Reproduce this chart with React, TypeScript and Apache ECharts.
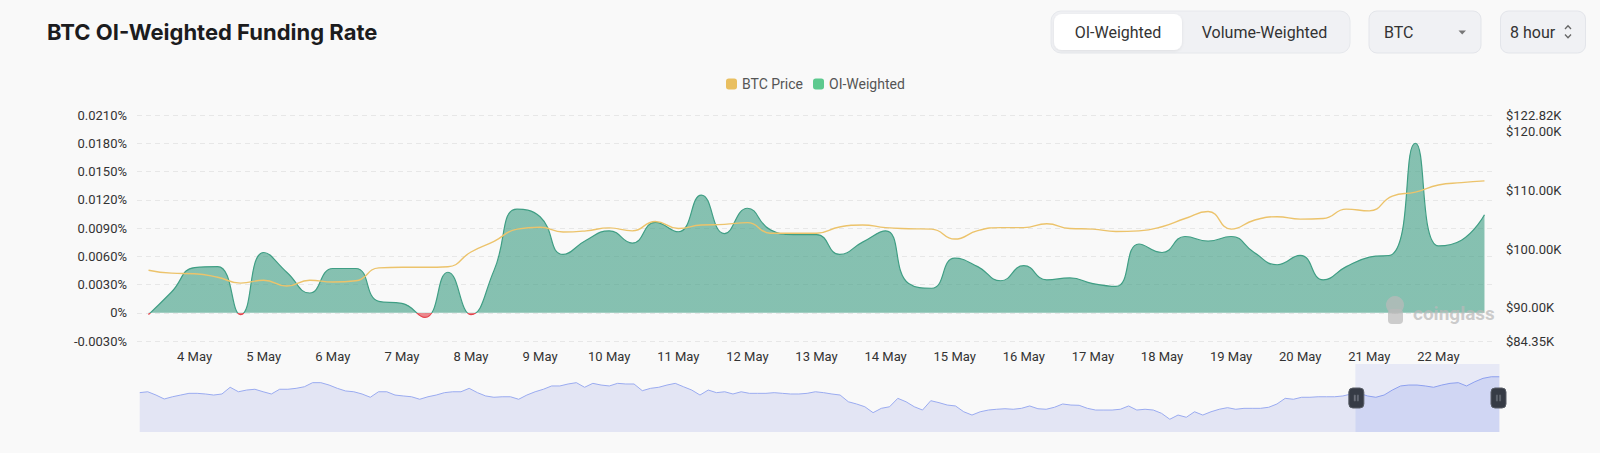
import React, { useEffect, useRef } from "react";
import * as echarts from "echarts";

// 8-hour funding intervals, 3 May 08:00 to 22 May 16:00 (2025)
const categories = [
  "05-03 08:00", "05-03 16:00",
  "05-04 00:00", "05-04 08:00", "05-04 16:00",
  "05-05 00:00", "05-05 08:00", "05-05 16:00",
  "05-06 00:00", "05-06 08:00", "05-06 16:00",
  "05-07 00:00", "05-07 08:00", "05-07 16:00",
  "05-08 00:00", "05-08 08:00", "05-08 16:00",
  "05-09 00:00", "05-09 08:00", "05-09 16:00",
  "05-10 00:00", "05-10 08:00", "05-10 16:00",
  "05-11 00:00", "05-11 08:00", "05-11 16:00",
  "05-12 00:00", "05-12 08:00", "05-12 16:00",
  "05-13 00:00", "05-13 08:00", "05-13 16:00",
  "05-14 00:00", "05-14 08:00", "05-14 16:00",
  "05-15 00:00", "05-15 08:00", "05-15 16:00",
  "05-16 00:00", "05-16 08:00", "05-16 16:00",
  "05-17 00:00", "05-17 08:00", "05-17 16:00",
  "05-18 00:00", "05-18 08:00", "05-18 16:00",
  "05-19 00:00", "05-19 08:00", "05-19 16:00",
  "05-20 00:00", "05-20 08:00", "05-20 16:00",
  "05-21 00:00", "05-21 08:00", "05-21 16:00",
  "05-22 00:00", "05-22 08:00", "05-22 16:00",
];

// OI-weighted funding rate, in percent
const oiWeightedRate = [
  -0.0002, 0.0022, 0.0048, 0.0049, -0.0002, 0.0064, 0.0043, 0.0021, 0.0047, 0.0047,
  0.0012, 0.001, -0.0005, 0.0043, -0.0002, 0.0045, 0.011, 0.0102, 0.0062, 0.0077,
  0.0087, 0.0074, 0.0096, 0.0086, 0.0125, 0.0084, 0.0111, 0.0088, 0.0083, 0.0083,
  0.0062, 0.0075, 0.0087, 0.0031, 0.0026, 0.0058, 0.0049, 0.0034, 0.005, 0.0035,
  0.0037, 0.0031, 0.0028, 0.0073, 0.0064, 0.0081, 0.0076, 0.0081, 0.0064, 0.0051,
  0.0061, 0.0035, 0.0049, 0.0059, 0.0062, 0.018, 0.0071, 0.0077, 0.0104,
];

// BTC price, USD
const btcPrice = [
  96400, 95900, 95800, 95200, 94200, 94700, 93700, 94700, 94400, 94600,
  96800, 96900, 96900, 97000, 99500, 101300, 103400, 103700, 102900, 103100,
  103600, 103100, 104700, 103500, 104100, 104200, 104500, 102700, 102700, 102700,
  103750, 104100, 103650, 103470, 103400, 101700, 103150, 103650, 103650, 104300,
  103500, 103400, 103000, 103100, 103800, 105200, 106400, 103400, 104900, 105500,
  105100, 105200, 106800, 106500, 109000, 109700, 110900, 111300, 111600,
];

// Longer BTC price history shown in the zoom slider preview
const historyPrice = [
  99500, 100200, 97700, 94700, 96400, 97700, 99000, 99000, 98500, 97700,
  98500, 103600, 100200, 101500, 102100, 100200, 98500, 102100, 102100, 102800,
  104000, 107100, 107100, 105300, 102800, 100800, 100200, 98500, 96000, 100200,
  100200, 97700, 97000, 96400, 94500, 96400, 97700, 99500, 100200, 100200,
  102800, 99500, 97000, 96000, 96400, 96400, 94500, 97700, 100200, 102100,
  104600, 104600, 106100, 107100, 103600, 106600, 105300, 104600, 106600, 106100,
  106100, 101000, 102800, 103600, 105300, 106600, 104000, 101500, 97700, 101500,
  99500, 100200, 98500, 100200, 99000, 99000, 99000, 99500, 99000, 98500,
  98500, 99000, 100200, 99500,
  98500, 97700, 92600, 90900, 88800, 84300, 87600, 88800, 95200, 92600,
  88800, 86300, 93400, 91900, 90100, 89400, 85000, 82500, 85000, 86300,
  86900, 87300, 86900, 87600, 89400, 87300, 86900, 88400, 90900, 90100,
  89900, 87600, 86300, 86300, 86300, 86900, 89400, 86300, 86900, 86300,
  83800, 79300, 82500, 80800, 85000, 82500, 85000, 86900, 88100, 86900,
  87600, 87600, 87600, 88400, 90900, 95200, 94500, 96000, 96000, 96400,
  96400, 96400, 97000, 98500, 99000, 97000,
  96000, 97700, 101500, 104600, 105300, 105300, 104600, 103600, 105300, 106600,
  107100, 104600, 107800, 110400, 111600, 111600,
];

const rateAxis = { min: -0.003, max: 0.021, interval: 0.003 };
const priceAxis = { min: 84350, max: 122820 };
const zoomWindow = { start: 89.4, end: 100 };

const FONT = "Roboto, 'Noto Sans', sans-serif";
const TITLE_FONT = "Inter, Roboto, sans-serif";
const BG = "#f9f9f9";

export default function App() {
  const ref = useRef<HTMLDivElement>(null);

  useEffect(() => {
    document.body.style.margin = "0";
    document.body.style.background = BG;
    const chart = echarts.init(ref.current as HTMLDivElement, null, { renderer: "svg" });

    const wm = "rgba(186,186,186,0.72)";
    const option: any = {
      animation: false,
      backgroundColor: BG,
      textStyle: { fontFamily: FONT },
      graphic: [
        {
          type: "text", x: 47, y: 32,
          style: { text: "BTC OI-Weighted Funding Rate", fontSize: 22, fontWeight: "bold", fill: "#1c1c1e", fontFamily: TITLE_FONT, verticalAlign: "middle" },
        },
        { type: "rect", shape: { x: 1051, y: 11, width: 299, height: 42, r: 10 }, style: { fill: "#f0f1f4", stroke: "#e6e8ec", lineWidth: 1 } },
        { type: "rect", shape: { x: 1054, y: 14, width: 128, height: 36, r: 8 }, style: { fill: "#ffffff", shadowBlur: 3, shadowColor: "rgba(0,0,0,0.08)", shadowOffsetY: 1 } },
        { type: "text", x: 1118, y: 32, style: { text: "OI-Weighted", fontSize: 16, fill: "#333", fontFamily: FONT, align: "center", verticalAlign: "middle" } },
        { type: "text", x: 1264.5, y: 32, style: { text: "Volume-Weighted", fontSize: 16, fill: "#333", fontFamily: FONT, align: "center", verticalAlign: "middle" } },
        { type: "rect", shape: { x: 1369, y: 11, width: 112, height: 42, r: 8 }, style: { fill: "#f0f1f4", stroke: "#e3e5ea", lineWidth: 1 } },
        { type: "text", x: 1384, y: 32, style: { text: "BTC", fontSize: 16, fill: "#333", fontFamily: FONT, align: "left", verticalAlign: "middle" } },
        { type: "polygon", shape: { points: [[1458.5, 30.5], [1466, 30.5], [1462.2, 34.5]] }, style: { fill: "#777" } },
        { type: "rect", shape: { x: 1500.5, y: 11, width: 85, height: 42, r: 8 }, style: { fill: "#f0f1f4", stroke: "#e3e5ea", lineWidth: 1 } },
        { type: "text", x: 1510, y: 32, style: { text: "8 hour", fontSize: 16, fill: "#333", fontFamily: FONT, align: "left", verticalAlign: "middle" } },
        { type: "polyline", shape: { points: [[1565, 29], [1568, 25.8], [1571, 29]] }, style: { stroke: "#666", lineWidth: 1.3, fill: "none" } },
        { type: "polyline", shape: { points: [[1565, 34.5], [1568, 37.7], [1571, 34.5]] }, style: { stroke: "#666", lineWidth: 1.3, fill: "none" } },
        // watermark
        { type: "circle", z: 100, shape: { cx: 1395, cy: 305, r: 9 }, style: { fill: wm } },
        { type: "rect", z: 100, shape: { x: 1388, y: 309, width: 15, height: 15, r: 4 }, style: { fill: wm } },
        {
          type: "text", z: 100, x: 1413, y: 313,
          style: { text: "coinglass", fontSize: 19, fontWeight: "bold", fill: wm, fontFamily: FONT, verticalAlign: "middle" },
        },
      ],
      legend: {
        left: 721, top: 72, itemWidth: 11, itemHeight: 11, itemGap: 10, icon: "roundRect",
        textStyle: { color: "#555", fontSize: 14, fontFamily: FONT },
        itemStyle: { borderWidth: 0 },
        data: [
          { name: "BTC Price", itemStyle: { color: "#e9bf60" } },
          { name: "OI-Weighted", itemStyle: { color: "#5cc98e" } },
        ],
      },
      grid: [
        { left: 137, right: 104, top: 115, bottom: 112 },
        { left: 137, right: 103, top: 364, height: 68, show: false },
      ],
      xAxis: [
        {
          type: "category", gridIndex: 0, data: categories, boundaryGap: true,
          axisLine: { show: false }, axisTick: { show: false },
          axisLabel: {
            interval: (i: number) => i % 3 === 2,
            formatter: (v: string) => parseInt(v.slice(3, 5), 10) + " May",
            color: "#333", fontSize: 13, margin: 9, fontFamily: FONT,
          },
        },
        { type: "category", gridIndex: 1, data: historyPrice.map((_, i) => i), show: false },
      ],
      yAxis: [
        {
          type: "value", gridIndex: 0, min: rateAxis.min, max: rateAxis.max, interval: rateAxis.interval,
          axisLine: { show: false }, axisTick: { show: false },
          splitLine: { lineStyle: { color: "#e7e7e7", type: [5, 4] } },
          axisLabel: {
            color: "#333", fontSize: 13, margin: 10, fontFamily: FONT,
            formatter: (v: number) => (Math.abs(v) < 1e-12 ? "0%" : v.toFixed(4) + "%"),
          },
        },
        {
          type: "value", gridIndex: 0, position: "right", min: priceAxis.min, max: priceAxis.max,
          axisLine: { show: false }, axisTick: { show: false }, splitLine: { show: false },
          axisLabel: {
            color: "#333", fontSize: 13, margin: 10, fontFamily: FONT,
            formatter: (v: number) => "$" + (v / 1000).toFixed(2) + "K",
          },
        },
        { type: "value", gridIndex: 1, show: false, scale: true },
      ],
      visualMap: {
        show: false, type: "piecewise", seriesIndex: 0, dimension: 1,
        pieces: [
          { gte: -1, lt: 0, color: "#e4434c" },
          { gte: 0, lte: 1, color: "#3f9e84" },
        ],
      },
      dataZoom: [
        {
          type: "slider", xAxisIndex: 1, filterMode: "none",
          start: zoomWindow.start, end: zoomWindow.end,
          left: 137, right: 103, top: 364, height: 68,
          showDetail: false, brushSelect: false, moveHandleSize: 0,
          borderColor: "transparent", backgroundColor: "transparent",
          fillerColor: "rgba(125,145,235,0.14)",
          dataBackground: {
            lineStyle: { color: "#9aabf0", width: 1, opacity: 1 },
            areaStyle: { color: "#dfe2f3", opacity: 0.85 },
          },
          selectedDataBackground: {
            lineStyle: { color: "#8fa3f0", width: 1, opacity: 1 },
            areaStyle: { color: "#c9cff3", opacity: 0.55 },
          },
          handleIcon:
            "path://M4,0H11A4,4,0,0,1,15,4V16A4,4,0,0,1,11,20H4A4,4,0,0,1,0,16V4A4,4,0,0,1,4,0Z M5.4,7V13H6.5V7Z M8.5,7V13H9.6V7Z",
          handleSize: 20,
          handleStyle: { color: "#363b45", borderColor: "#585d66", borderWidth: 1 },
          emphasis: { handleStyle: { color: "#363b45", borderColor: "#585d66", borderWidth: 1 } },
        },
      ],
      series: [
        {
          name: "OI-Weighted", type: "line", xAxisIndex: 0, yAxisIndex: 0, data: oiWeightedRate,
          smooth: true, symbol: "none", showSymbol: false,
          itemStyle: { color: "#5cc98e" },
          lineStyle: { width: 1.2 },
          areaStyle: { opacity: 0.62 },
          z: 2,
        },
        {
          name: "BTC Price", type: "line", xAxisIndex: 0, yAxisIndex: 1, data: btcPrice,
          smooth: true, symbol: "none", showSymbol: false,
          itemStyle: { color: "#e9bf60" },
          lineStyle: { color: "#ecc36b", width: 1.4 },
          z: 3,
        },
        {
          name: "history", type: "line", xAxisIndex: 1, yAxisIndex: 2, data: historyPrice,
          symbol: "none", showSymbol: false, silent: true,
          lineStyle: { opacity: 0 }, itemStyle: { opacity: 0 },
        },
      ],
    };

    chart.setOption(option);
    return () => chart.dispose();
  }, []);

  return (
    <div
      ref={ref}
      style={{ position: "absolute", left: 0, top: 0, width: 1600, height: 453, background: BG }}
    />
  );
}
